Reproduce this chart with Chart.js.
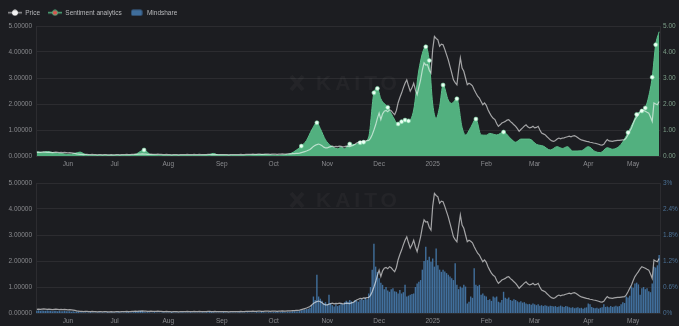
<!DOCTYPE html>
<html lang="en">
<head>
<meta charset="UTF-8">
<title>Price, Sentiment and Mindshare</title>
<script src="https://cdn.jsdelivr.net/npm/chart.js"></script>
<style>
  html, body { margin: 0; padding: 0; background: #1c1d21; }
  body { width: 679px; height: 326px; overflow: hidden; position: relative; }
  canvas { position: absolute; left: 0; }
  #top-chart { top: 0; }
  #bottom-chart { top: 170px; }
</style>
</head>
<body>
<canvas id="top-chart" width="679" height="170"></canvas>
<canvas id="bottom-chart" width="679" height="156"></canvas>
<script>
// x values are days counted from 17 May 2024
const monthTickDays = [18, 45, 76, 107, 137, 168, 198, 229, 260, 288, 319, 345];
const monthTickLabels = ['Jun', 'Jul', 'Aug', 'Sep', 'Oct', 'Nov', 'Dec', '2025', 'Feb', 'Mar', 'Apr', 'May'];
const priceTicks = [0, 1, 2, 3, 4, 5];
const sentimentTicks = [0, 1, 2, 3, 4, 5];
const mindshareTicks = [0, 0.6, 1.2, 1.8, 2.4, 3];

// daily price, day 0 .. 360
const price = [
  0.14,0.15,0.14,0.15,0.16,0.15,0.14,0.15,0.14,0.13,
  0.14,0.15,0.14,0.13,0.14,0.13,0.14,0.13,0.12,0.13,
  0.12,0.11,0.10,0.08,0.07,
  0.06,0.06,0.05,0.06,0.06,0.05,0.05,0.06,0.05,0.05,
  0.04,0.05,0.05,0.04,0.05,0.05,0.04,0.04,0.05,0.04,
  0.04,0.05,0.05,0.04,0.05,0.05,0.05,0.06,0.05,0.05,
  0.06,0.06,0.07,0.06,0.07,0.07,0.08,0.07,0.07,0.06,
  0.06,0.07,0.06,0.06,0.06,0.07,0.06,0.06,0.05,0.05,
  0.06,
  0.05,0.05,0.04,0.05,0.05,0.05,0.04,0.05,0.05,0.05,
  0.05,0.06,0.05,0.05,0.05,0.06,0.05,0.05,0.06,0.05,
  0.05,0.05,0.05,0.06,0.06,0.05,0.05,0.06,0.05,0.05,
  0.05,
  0.05,0.05,0.05,0.05,0.04,0.05,0.05,0.05,0.05,0.05,
  0.05,0.06,0.05,0.05,0.06,0.06,0.06,0.06,0.07,0.06,
  0.06,0.07,0.07,0.06,0.06,0.07,0.07,0.07,0.06,0.07,
  0.07,0.07,0.06,0.07,0.07,0.08,0.07,0.07,0.08,0.08,0.08,0.09,0.09,
  0.10,0.10,0.11,0.13,0.15,0.17,0.19,0.22,0.25,0.31,0.37,0.41,0.44,0.46,0.43,0.39,0.34,0.31,
  0.31,0.34,0.36,0.38,0.35,0.37,0.36,0.38,0.37,0.35,0.36,0.38,0.37,0.36,0.39,0.41,0.45,0.50,0.53,0.56,
  0.55,0.58,0.57,0.59,0.60,0.68,0.82,1.00,1.20,1.45,
  1.65,1.40,1.62,1.72,1.75,1.70,1.78,1.74,1.66,1.59,
  1.75,2.05,2.25,2.42,2.62,2.80,2.93,2.70,2.49,2.62,
  2.80,2.55,2.36,2.65,2.93,3.30,3.58,3.50,3.51,3.30,
  3.19,
  4.10,4.60,4.52,4.47,4.22,4.30,4.28,4.10,3.90,3.70,
  3.45,3.20,2.93,2.82,2.74,3.30,3.77,3.38,3.26,3.00,
  2.74,2.80,2.76,2.70,2.55,2.42,2.30,2.23,2.10,1.97,
  2.04,
  1.95,1.78,1.65,1.53,1.45,1.40,1.25,1.14,1.20,1.27,
  1.30,1.33,1.38,1.40,1.32,1.27,1.20,1.14,1.05,0.95,
  1.02,1.08,1.15,1.20,1.12,1.08,1.10,1.14,
  1.08,1.10,1.14,1.00,0.88,0.85,0.82,0.75,0.69,0.62,
  0.58,0.56,0.60,0.65,0.69,0.66,0.69,0.70,0.72,0.74,
  0.76,0.74,0.77,0.78,0.75,0.70,0.65,0.62,0.60,0.58,
  0.56,
  0.55,0.53,0.52,0.50,0.49,0.47,0.45,0.43,0.42,0.45,
  0.55,0.63,0.58,0.57,0.56,0.58,0.59,0.60,0.60,0.61,
  0.62,0.63,0.70,0.82,0.95,1.08,1.25,1.40,1.50,1.59,
  1.70,1.78,1.75,1.72,1.68,1.65,1.50,1.33,2.04,2.00,1.97,2.10
];

// daily mindshare in %, day 0 .. 360
const mindshare = [
  0.05,0.06,0.05,0.06,0.05,0.05,0.06,0.05,0.05,0.04,
  0.05,0.05,0.04,0.05,0.04,0.04,0.05,0.04,0.04,0.04,
  0.03,0.04,0.03,0.03,0.03,
  0.02,0.02,0.01,0.02,0.01,0.01,0.02,0.01,0.01,0.01,
  0.01,0.02,0.01,0.01,0.01,0.01,0.02,0.01,0.01,0.01,
  0.01,0.01,0.02,0.01,0.01,0.01,0.01,0.02,0.02,0.01,
  0.02,0.02,0.03,0.03,0.04,0.05,0.04,0.03,0.02,0.02,
  0.02,0.01,0.01,0.02,0.01,0.01,0.01,0.01,0.02,0.01,
  0.01,0.01,0.01,0.02,0.01,0.01,0.01,0.01,0.01,0.02,
  0.01,0.01,0.01,0.01,0.02,0.01,0.01,0.01,0.01,0.01,
  0.01,0.02,0.01,0.02,0.02,0.03,0.02,0.02,0.01,0.01,
  0.01,0.01,0.01,0.02,0.01,0.01,0.01,0.01,0.01,0.01,
  0.01,0.01,0.02,0.01,0.01,0.01,0.01,0.02,0.01,0.01,
  0.01,0.01,0.02,0.02,0.02,0.03,0.02,0.02,0.01,0.02,
  0.02,0.02,0.02,0.02,0.03,0.02,0.02,0.03,0.03,0.02,
  0.03,0.03,0.03,0.04,0.04,0.04,
  0.04,0.05,0.06,0.07,0.08,0.09,0.10,0.12,0.18,
  0.38,0.30,0.88,0.38,0.33,0.28,0.22,0.25,0.20,0.42,
  0.22,0.18,0.15,0.20,0.16,0.18,0.22,0.20,0.25,0.28,
  0.26,0.30,0.27,0.25,0.30,0.28,0.26,0.30,0.33,0.30,
  0.35,0.32,0.45,0.60,1.00,1.60,1.07,0.95,
  0.80,0.70,0.65,0.55,0.60,0.52,0.49,0.55,0.57,0.50,
  0.49,0.45,0.53,0.45,0.48,0.65,0.38,0.40,0.42,0.44,
  0.45,0.60,0.68,0.72,0.76,1.00,1.20,1.53,1.22,1.30,
  1.18,1.26,1.07,1.49,1.10,1.00,0.95,1.00,0.96,0.92,
  0.88,0.84,0.80,0.76,1.15,0.65,0.55,0.61,0.58,0.65,
  0.61,0.22,0.26,0.38,0.35,1.03,0.65,0.62,0.65,0.42,
  0.45,0.40,
  0.38,0.30,0.32,0.28,0.38,0.36,0.38,0.26,0.24,0.30,
  0.49,0.35,0.33,0.36,0.30,0.28,0.32,0.30,0.27,0.25,
  0.27,0.24,0.25,0.22,0.20,0.21,0.19,0.22,0.20,0.18,
  0.20,0.17,0.18,0.16,0.18,0.17,0.15,0.17,0.16,0.15,
  0.16,0.14,0.15,0.17,0.15,0.14,0.16,0.15,0.13,0.12,
  0.13,0.11,0.12,0.13,0.11,0.12,0.10,0.12,0.13,0.22,
  0.20,0.14,0.12,0.11,0.12,0.10,0.12,0.13,0.20,0.14,
  0.15,0.13,0.16,0.14,0.15,0.17,0.15,0.16,0.20,0.25,
  0.23,0.38,0.36,0.40,0.61,0.58,0.68,0.70,0.66,0.42,
  0.57,0.60,0.55,0.57,0.50,0.48,0.68,1.07,1.05,1.10,
  1.34
];

// sentiment readings (day, score)
const sentimentDays = [
  0,3,6,10,14,18,22,25,28,33,45,56,62,66,75,90,99,102,105,120,
  131,138,143,147,150,153,156,159,162,164,167,170,174,176,178,181,184,187,189,192,
  195,197,199,203,206,209,211,213,215,218,221,225,227,229,231,233,235,238,240,243,
  246,248,251,254,257,260,262,266,270,274,277,280,285,289,293,297,301,304,307,310,
  315,319,323,326,330,333,335,338,342,345,347,350,352,354,356,358,360
];
const sentimentValues = [
  0.16,0.14,0.17,0.12,0.10,0.06,0.10,0.15,0.06,0.03,0.03,0.04,0.23,0.05,0.03,0.03,0.04,0.10,0.04,0.03,
  0.06,0.03,0.04,0.10,0.22,0.38,0.60,1.00,1.28,1.05,0.62,0.40,0.28,0.34,0.28,0.46,0.44,0.51,0.53,0.74,
  2.43,2.60,2.20,1.87,1.51,1.23,1.32,1.38,1.35,1.77,3.31,4.20,3.67,2.00,1.45,1.90,2.73,2.15,2.02,2.20,
  1.10,0.81,1.10,1.42,0.81,0.80,0.87,0.81,0.92,0.68,0.53,0.65,0.65,0.45,0.38,0.23,0.36,0.29,0.36,0.19,
  0.20,0.36,0.17,0.13,0.32,0.26,0.29,0.45,0.90,1.30,1.60,1.73,1.85,2.30,3.03,4.28,4.78
];
// days that carry a marker on the sentiment curve
const sentimentMarkedDays = [62,153,162,181,187,189,195,197,203,209,211,213,215,225,227,235,243,254,270,342,347,350,352,356,358];

const GRID = 'rgba(255,255,255,0.07)';
const TICK = '#8a8b8f';
const GREEN = '#52b07f';
const BLUE = '#3f6d9b';
const PRICE_LINE = 'rgba(255,255,255,0.6)';

Chart.defaults.font.family = '"Liberation Sans", Arial, sans-serif';
Chart.defaults.font.size = 6.5;
Chart.defaults.color = TICK;

const pricePoints = price.map((v, i) => ({ x: i, y: v }));
const mindsharePoints = mindshare.map((v, i) => ({ x: i, y: v }));
const sentimentPoints = sentimentDays.map((d, i) => ({ x: d, y: sentimentValues[i] }));

// little canvases used as legend symbols
function lineMarker(lineColor, dotFill, dotStroke) {
  const c = document.createElement('canvas');
  c.width = 14; c.height = 7;
  const g = c.getContext('2d');
  g.strokeStyle = lineColor; g.lineWidth = 1.5;
  g.beginPath(); g.moveTo(0, 3.5); g.lineTo(14, 3.5); g.stroke();
  g.beginPath(); g.arc(7, 3.5, 2.6, 0, Math.PI * 2);
  g.fillStyle = dotFill; g.fill();
  g.strokeStyle = dotStroke; g.lineWidth = 1; g.stroke();
  return c;
}
function boxMarker(color) {
  const c = document.createElement('canvas');
  c.width = 12; c.height = 7;
  const g = c.getContext('2d');
  g.fillStyle = color;
  g.beginPath(); g.roundRect(0.5, 0.5, 11, 6, 1.5); g.fill();
  return c;
}

const watermark = {
  id: 'watermark',
  beforeDatasetsDraw(chart, args, opts) {
    const ctx = chart.ctx;
    const y = opts.y;
    ctx.save();
    ctx.fillStyle = 'rgba(255,255,255,0.035)';
    ctx.strokeStyle = 'rgba(255,255,255,0.035)';
    ctx.lineWidth = 4;
    ctx.beginPath();
    ctx.moveTo(291, y - 7); ctx.lineTo(303, y + 7);
    ctx.moveTo(303, y - 7); ctx.lineTo(291, y + 7);
    ctx.stroke();
    ctx.font = 'bold 21px "Liberation Sans", Arial, sans-serif';
    ctx.textBaseline = 'middle';
    ctx.letterSpacing = '4px';
    ctx.fillText('KAITO', 316, y + 1);
    ctx.restore();
  }
};

function xAxis(height) {
  return {
    type: 'linear',
    min: -0.5,
    max: 360.5,
    offset: false,
    grid: { display: false, drawTicks: false },
    border: { display: false },
    afterBuildTicks: s => { s.ticks = monthTickDays.map(v => ({ value: v })); },
    afterFit: s => { s.height = height; },
    ticks: {
      autoSkip: false, maxRotation: 0, padding: 4, color: TICK,
      callback: (v, i) => monthTickLabels[i]
    }
  };
}

function leftAxis() {
  return {
    position: 'left',
    min: 0, max: 5,
    afterBuildTicks: s => { s.ticks = priceTicks.map(v => ({ value: v })); },
    afterFit: s => { s.width = 36; },
    grid: { color: GRID, drawTicks: false },
    border: { color: GRID },
    ticks: { padding: 4, color: TICK, callback: v => v.toFixed(5) }
  };
}

function rightAxis(max, tickValues, color, format) {
  return {
    position: 'right',
    min: 0, max: max,
    afterBuildTicks: s => { s.ticks = tickValues.map(v => ({ value: v })); },
    afterFit: s => { s.width = 19; },
    grid: { display: false, drawTicks: false },
    border: { color: GRID },
    ticks: { padding: 3, color: color, callback: format }
  };
}

const priceDataset = {
  type: 'line',
  label: 'Price',
  data: pricePoints,
  yAxisID: 'y',
  borderColor: PRICE_LINE,
  borderWidth: 1.2,
  pointRadius: 0,
  tension: 0
};

new Chart(document.getElementById('top-chart'), {
  type: 'line',
  data: {
    datasets: [
      priceDataset,
      {
        label: 'Sentiment analytics',
        data: sentimentPoints,
        yAxisID: 'y1',
        borderColor: '#5cbf8b',
        borderWidth: 1,
        backgroundColor: GREEN,
        fill: 'origin',
        cubicInterpolationMode: 'monotone',
        pointRadius: c => sentimentMarkedDays.includes(c.raw.x) ? 2 : 0,
        pointBackgroundColor: '#eafff3',
        pointBorderColor: '#7fd6a6',
        pointBorderWidth: 0.6
      }
    ]
  },
  options: {
    responsive: false,
    devicePixelRatio: 1,
    animation: false,
    events: [],
    layout: { padding: { top: 1.5, left: 0, right: 0, bottom: 0 } },
    plugins: {
      tooltip: { enabled: false },
      watermark: { y: 83 },
      legend: {
        position: 'top',
        align: 'start',
        labels: {
          usePointStyle: true,
          pointStyleWidth: 14,
          padding: 8,
          color: '#b8b9bc',
          generateLabels: () => [
            { text: 'Price', pointStyle: lineMarker('#9a9b9e', '#f2f2f2', '#f2f2f2'), fontColor: '#b8b9bc', lineWidth: 0, strokeStyle: 'transparent', fillStyle: 'transparent' },
            { text: 'Sentiment analytics', pointStyle: lineMarker(GREEN, '#d9534f', GREEN), fontColor: '#b8b9bc', lineWidth: 0, strokeStyle: 'transparent', fillStyle: 'transparent' },
            { text: 'Mindshare', pointStyle: boxMarker(BLUE), fontColor: '#b8b9bc', lineWidth: 0, strokeStyle: 'transparent', fillStyle: 'transparent' }
          ]
        }
      }
    },
    scales: {
      x: xAxis(14),
      y: leftAxis(),
      y1: rightAxis(5, sentimentTicks, '#7d9e89', v => v.toFixed(2))
    }
  },
  plugins: [watermark]
});

new Chart(document.getElementById('bottom-chart'), {
  data: {
    datasets: [
      Object.assign({}, priceDataset),
      {
        type: 'bar',
        label: 'Mindshare',
        data: mindsharePoints,
        yAxisID: 'y1',
        backgroundColor: 'rgba(70,122,172,0.9)',
        barPercentage: 0.8,
        categoryPercentage: 1
      }
    ]
  },
  options: {
    responsive: false,
    devicePixelRatio: 1,
    animation: false,
    events: [],
    layout: { padding: { top: 13, left: 0, right: 0, bottom: 0 } },
    plugins: {
      tooltip: { enabled: false },
      legend: { display: false },
      watermark: { y: 30 }
    },
    scales: {
      x: xAxis(13),
      y: leftAxis(),
      y1: rightAxis(3, mindshareTicks, '#4b7196', v => (Math.round(v * 10) / 10) + '%')
    }
  },
  plugins: [watermark]
});
</script>
</body>
</html>
